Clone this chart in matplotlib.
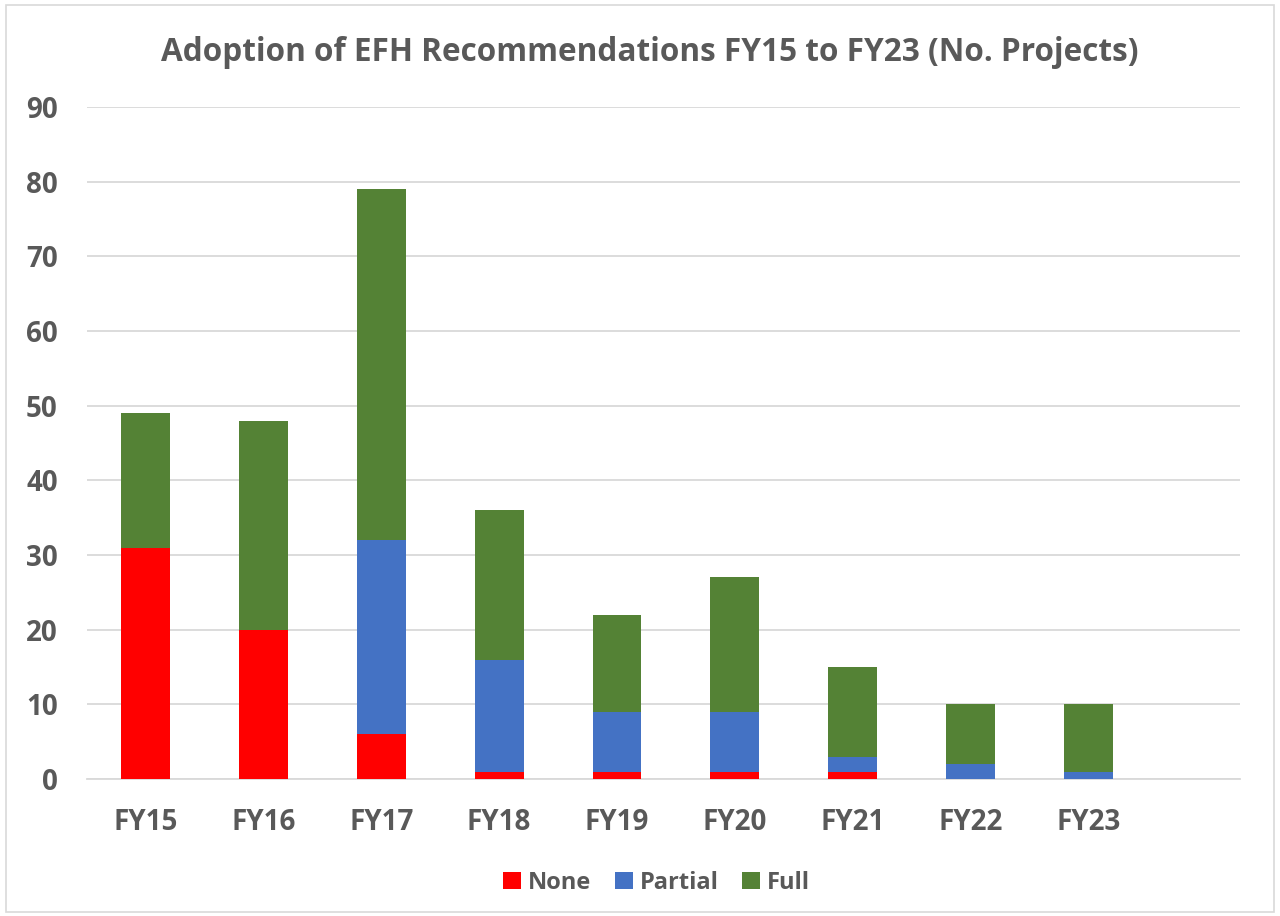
import numpy as np
import matplotlib
matplotlib.use("Agg")
import matplotlib.pyplot as plt
from matplotlib.patches import Rectangle

# data
years = ["FY15", "FY16", "FY17", "FY18", "FY19", "FY20", "FY21", "FY22", "FY23"]
none_vals = [31, 20, 6, 1, 1, 1, 1, 0, 0]
partial_vals = [0, 0, 26, 15, 8, 8, 2, 2, 1]
full_vals = [18, 28, 47, 20, 13, 18, 12, 8, 9]

GREY = "#595959"
plt.rcParams['font.family'] = ['Open Sans', 'DejaVu Sans']
plt.rcParams['font.weight'] = 'bold'

fig = plt.figure(figsize=(12.8, 9.16), dpi=100)
ax = fig.add_axes([0.068, 0.1496, 0.901, 0.7334])

x = np.arange(len(years))
none_a = np.array(none_vals)
part_a = np.array(partial_vals)
full_a = np.array(full_vals)
w = 0.415
ax.bar(x, none_a, w, color="#FF0000", label="None", zorder=3)
ax.bar(x, part_a, w, bottom=none_a, color="#4472C4", label="Partial", zorder=3)
ax.bar(x, full_a, w, bottom=none_a + part_a, color="#548235", label="Full", zorder=3)

# excel leaves an empty slot after the last category
ax.set_xlim(-0.497, 9.29)
ax.set_ylim(0, 90)
ax.set_yticks(range(0, 91, 10))
ax.yaxis.grid(True, color="#D9D9D9", linewidth=1.3, zorder=0)
ax.set_xticks(x)
ax.set_xticklabels(years)
for s in ["top", "right", "left"]:
    ax.spines[s].set_visible(False)
ax.spines["bottom"].set_color("#D9D9D9")
ax.spines["bottom"].set_linewidth(1.3)
ax.tick_params(length=0, labelsize=20, labelcolor=GREY, pad=21)
ax.tick_params(axis="y", pad=21)

fig.suptitle("Adoption of EFH Recommendations FY15 to FY23 (No. Projects)",
             x=0.508, y=0.961, fontsize=22.7, fontweight="bold", color=GREY)
fig.legend(loc="center", bbox_to_anchor=(0.513, 0.036), ncol=3, frameon=False,
           fontsize=17, labelcolor=GREY, handlelength=0.75, handleheight=0.75,
           handletextpad=0.3, columnspacing=1.0)

fig.patches.append(Rectangle((0.005, 0.004), 0.99, 0.99, transform=fig.transFigure,
                             fill=False, edgecolor="#D9D9D9", linewidth=1.2))

fig.savefig("out.png", dpi=100)
